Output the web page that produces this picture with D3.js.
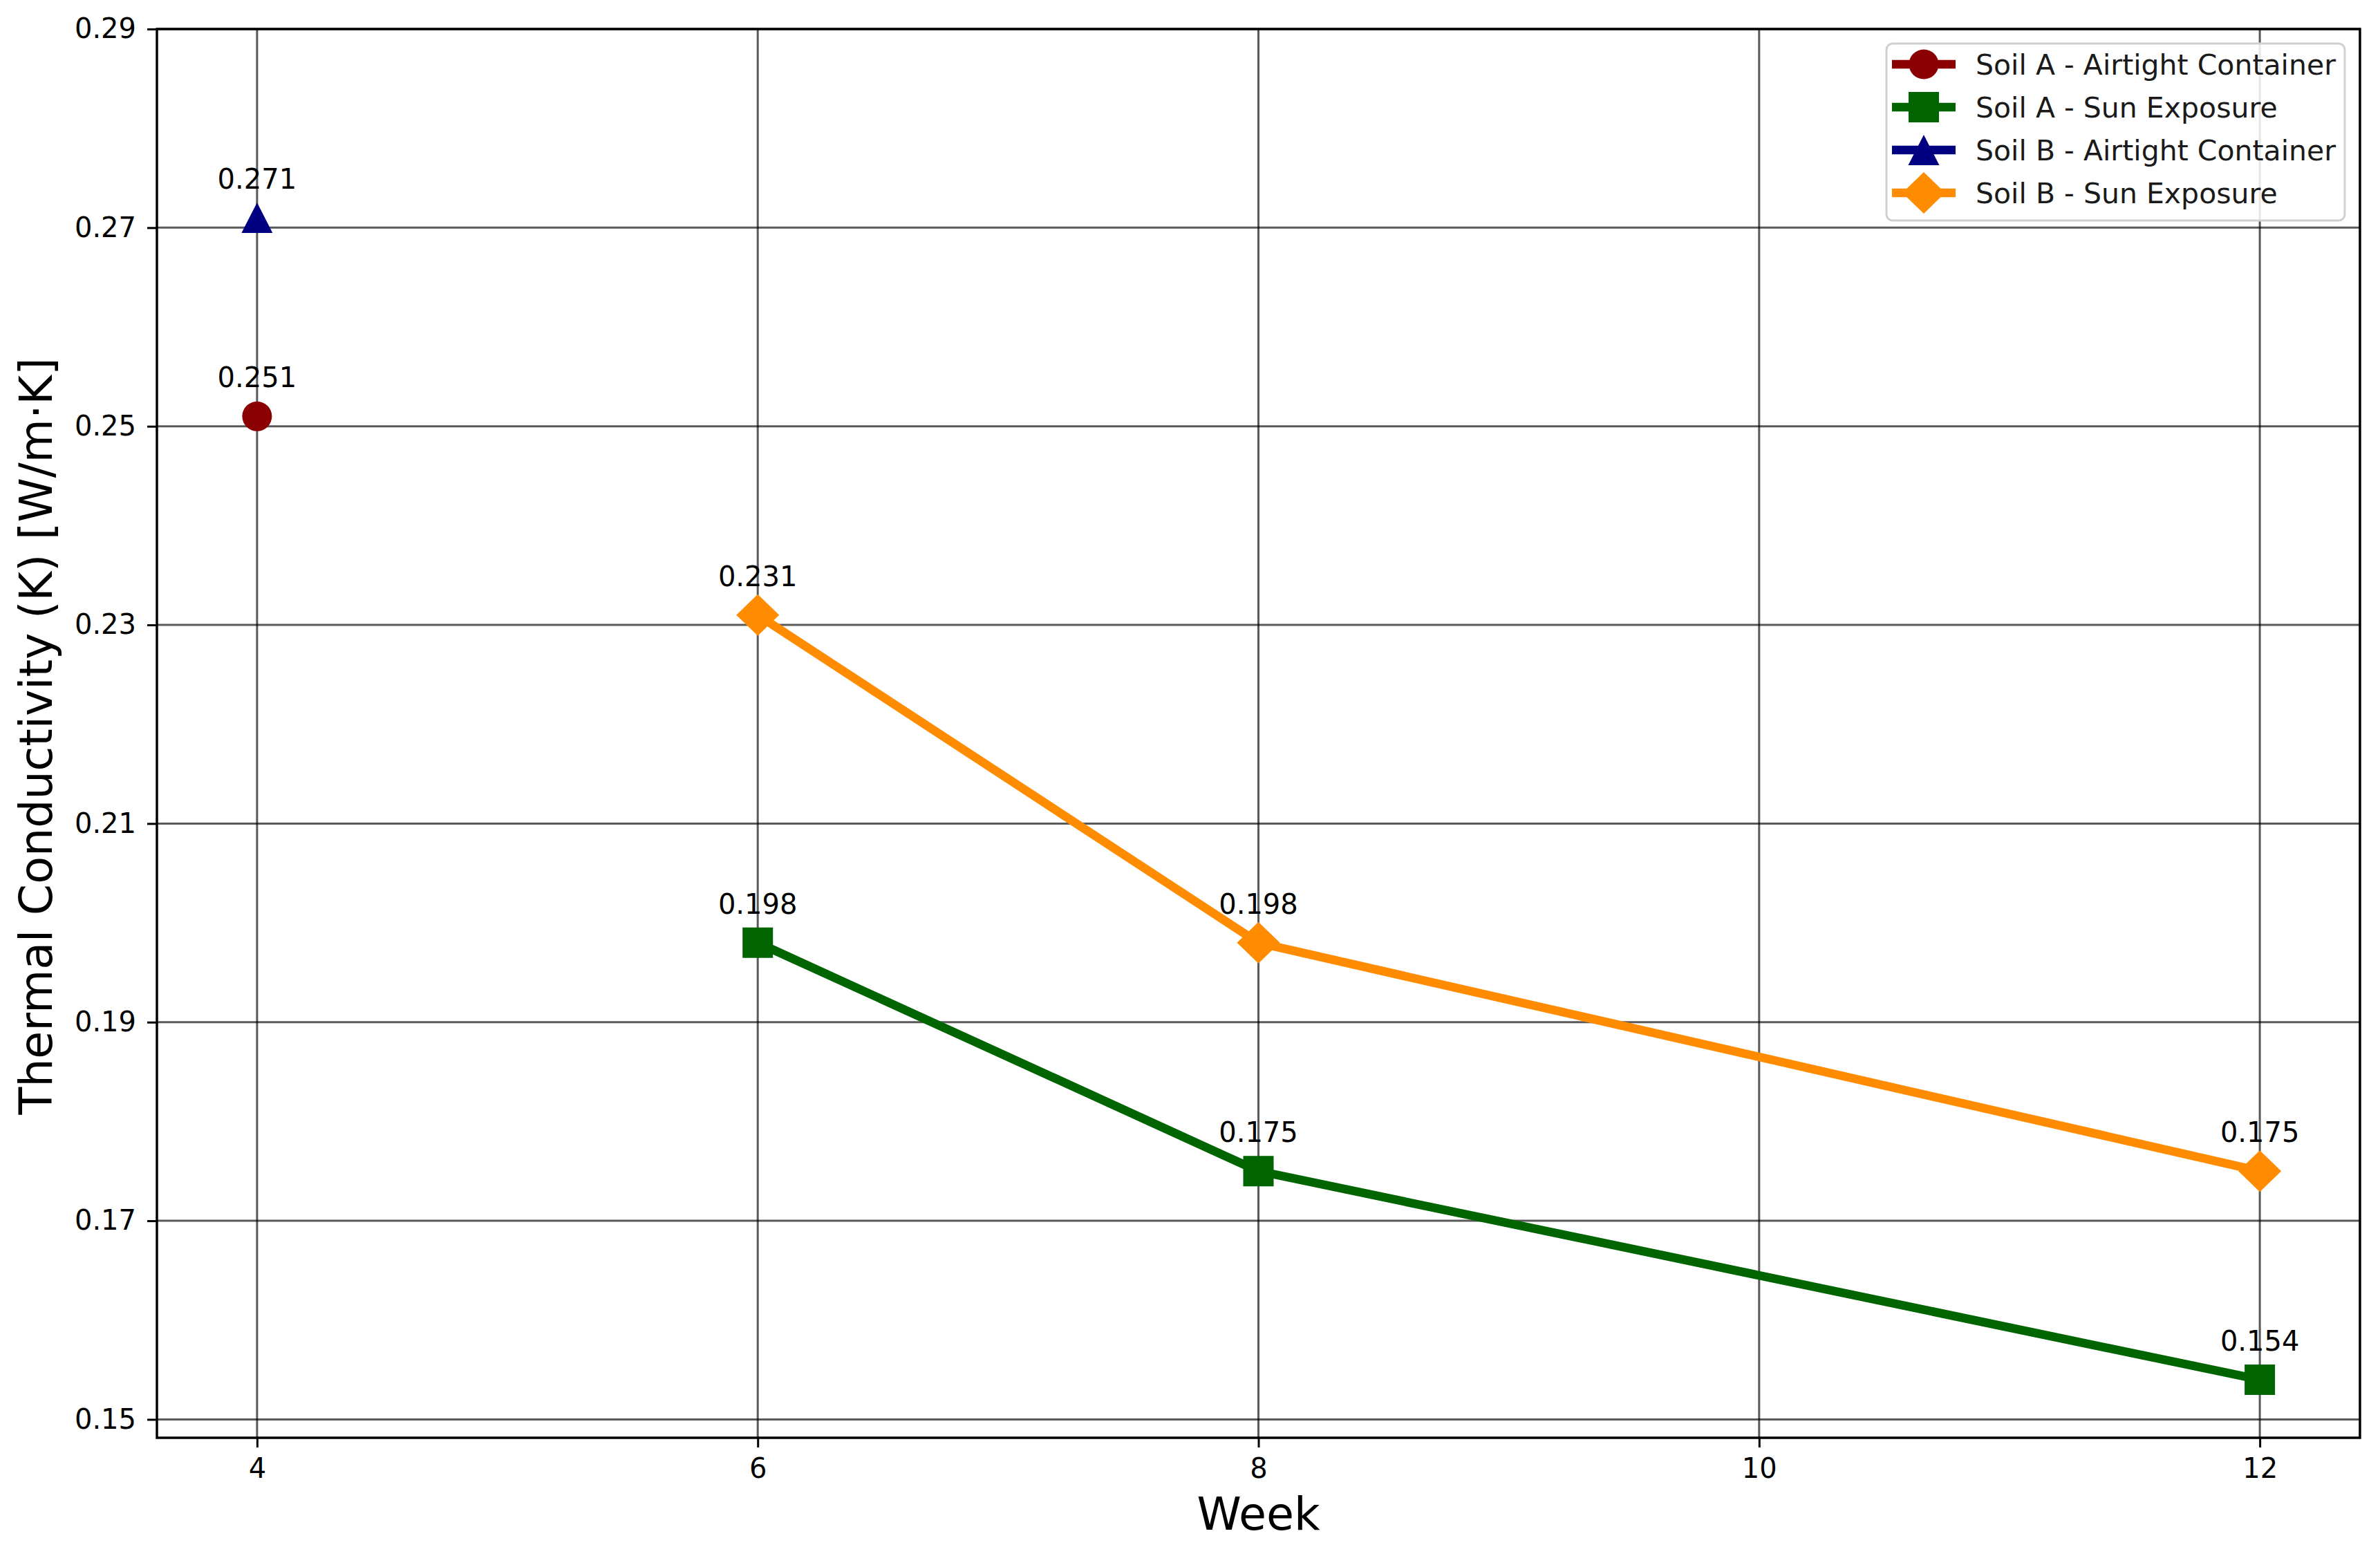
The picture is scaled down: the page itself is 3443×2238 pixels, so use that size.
<!DOCTYPE html>
<html>
<head>
<meta charset="utf-8">
<script src="https://cdn.jsdelivr.net/npm/d3@7/dist/d3.min.js"></script>
<style>
  html, body { margin: 0; padding: 0; background: #fff; }
  svg { display: block; font-family: "DejaVu Sans", sans-serif; }
</style>
</head>
<body>
<script>
// ---- data ----
const seriesNames = ["Soil A - Airtight Container", "Soil A - Sun Exposure", "Soil B - Airtight Container", "Soil B - Sun Exposure"];
const soilAAirtightWeeks = [4];
const soilAAirtightK = [0.251];
const soilASunWeeks = [6, 8, 12];
const soilASunK = [0.198, 0.175, 0.154];
const soilBAirtightWeeks = [4];
const soilBAirtightK = [0.271];
const soilBSunWeeks = [6, 8, 12];
const soilBSunK = [0.231, 0.198, 0.175];
const xTicks = [4, 6, 8, 10, 12];
const yTicks = [0.15, 0.17, 0.19, 0.21, 0.23, 0.25, 0.27, 0.29];
const xLabel = "Week";
const yLabel = "Thermal Conductivity (K) [W/m·K]";

const colors = ["#8B0000", "#006400", "#000080", "#FF8C00"];
const shapes = ["circle", "square", "triangle", "diamond"];

const series = [
  { name: seriesNames[0], x: soilAAirtightWeeks, y: soilAAirtightK },
  { name: seriesNames[1], x: soilASunWeeks, y: soilASunK },
  { name: seriesNames[2], x: soilBAirtightWeeks, y: soilBAirtightK },
  { name: seriesNames[3], x: soilBSunWeeks, y: soilBSunK }
].map((s, i) => ({ ...s, color: colors[i], shape: shapes[i], pts: s.x.map((v, j) => ({ x: v, y: s.y[j] })) }));

// ---- layout ----
const W = 3443, H = 2238;
const L = 227, R = 3414, T = 42, B = 2080;

const x = d3.scaleLinear().domain([3.6, 12.4]).range([L, R]);
const y = d3.scaleLinear().domain([0.14815, 0.29]).range([B, T]);

const svg = d3.select("body").append("svg").attr("width", W).attr("height", H);
svg.append("rect").attr("width", W).attr("height", H).attr("fill", "#fff");

// grid
const grid = svg.append("g");
grid.selectAll(".gx").data(xTicks).enter().append("line")
  .attr("x1", d => x(d)).attr("x2", d => x(d)).attr("y1", T).attr("y2", B)
  .attr("stroke", "#000").attr("stroke-opacity", 0.65).attr("stroke-width", 3);
grid.selectAll(".gy").data(yTicks).enter().append("line")
  .attr("y1", d => y(d)).attr("y2", d => y(d)).attr("x1", L).attr("x2", R)
  .attr("stroke", "#000").attr("stroke-opacity", 0.65).attr("stroke-width", 3);

// axes
const xAxis = d3.axisBottom(x).tickValues(xTicks).tickSize(14).tickPadding(16).tickFormat(d3.format("d"));
const yAxis = d3.axisLeft(y).tickValues(yTicks).tickSize(14).tickPadding(16).tickFormat(d3.format(".2f"));

const gx = svg.append("g").attr("transform", `translate(0,${B})`).call(xAxis);
const gy = svg.append("g").attr("transform", `translate(${L},0)`).call(yAxis);
[gx, gy].forEach(g => {
  g.select(".domain").remove();
  g.selectAll(".tick line").attr("stroke", "#000").attr("stroke-width", 3);
  g.selectAll(".tick text").attr("fill", "#000").style("font-size", "40px").style("font-family", "DejaVu Sans");
});

// frame
svg.append("rect").attr("x", L).attr("y", T).attr("width", R - L).attr("height", B - T)
  .attr("fill", "none").attr("stroke", "#000").attr("stroke-width", 3.5);

// symbols
function markerPath(shape) {
  if (shape === "circle") return d3.symbol(d3.symbolCircle, Math.PI * 21.5 * 21.5)();
  if (shape === "square") return d3.symbol(d3.symbolSquare, 44 * 44)();
  if (shape === "triangle") {
    const h = 44, w = 45;
    return `M0,${-h / 2}L${w / 2},${h / 2}L${-w / 2},${h / 2}Z`;
  }
  if (shape === "diamond") {
    const hw = 31, hh = 30;
    return `M0,${-hh}L${hw},0L0,${hh}L${-hw},0Z`;
  }
}

const line = d3.line().x(d => x(d.x)).y(d => y(d.y));
const plot = svg.append("g");
series.forEach(s => {
  const g = plot.append("g");
  if (s.pts.length > 1) {
    g.append("path").datum(s.pts).attr("d", line).attr("fill", "none")
      .attr("stroke", s.color).attr("stroke-width", 12.5).attr("stroke-linejoin", "round").attr("stroke-linecap", "square");
  }
  g.selectAll("path.m").data(s.pts).enter().append("path").attr("class", "m")
    .attr("d", markerPath(s.shape))
    .attr("transform", d => `translate(${x(d.x)},${y(d.y)})`)
    .attr("fill", s.color);
});

// annotations
series.forEach(s => {
  plot.selectAll(null).data(s.pts).enter().append("text")
    .attr("x", d => x(d.x)).attr("y", d => y(d.y) - 42)
    .attr("text-anchor", "middle").style("font-size", "40px").attr("fill", "#000")
    .text(d => d3.format(".3f")(d.y));
});

// axis labels
svg.append("text").attr("x", (L + R) / 2).attr("y", 2213).attr("text-anchor", "middle")
  .style("font-size", "65px").attr("fill", "#000").text(xLabel);
svg.append("text").attr("transform", `translate(75,${(T + B) / 2 + 4}) rotate(-90)`).attr("text-anchor", "middle")
  .style("font-size", "65px").attr("fill", "#000").text(yLabel);

// legend
const lg = svg.append("g").attr("transform", "translate(2729,63)");
lg.append("rect").attr("width", 663).attr("height", 256).attr("rx", 9).attr("ry", 9)
  .attr("fill", "#fff").attr("fill-opacity", 0.85).attr("stroke", "#d0d0d0").attr("stroke-width", 3);
series.forEach((s, i) => {
  const cy = 30 + i * 62;
  lg.append("line").attr("x1", 8).attr("x2", 100).attr("y1", cy).attr("y2", cy)
    .attr("stroke", s.color).attr("stroke-width", 12.5);
  lg.append("path").attr("d", markerPath(s.shape)).attr("transform", `translate(54,${cy})`).attr("fill", s.color);
  lg.append("text").attr("x", 129).attr("y", cy).attr("dy", "0.36em")
    .style("font-size", "41px").attr("fill", "#1a1a1a").text(s.name);
});
</script>
</body>
</html>
